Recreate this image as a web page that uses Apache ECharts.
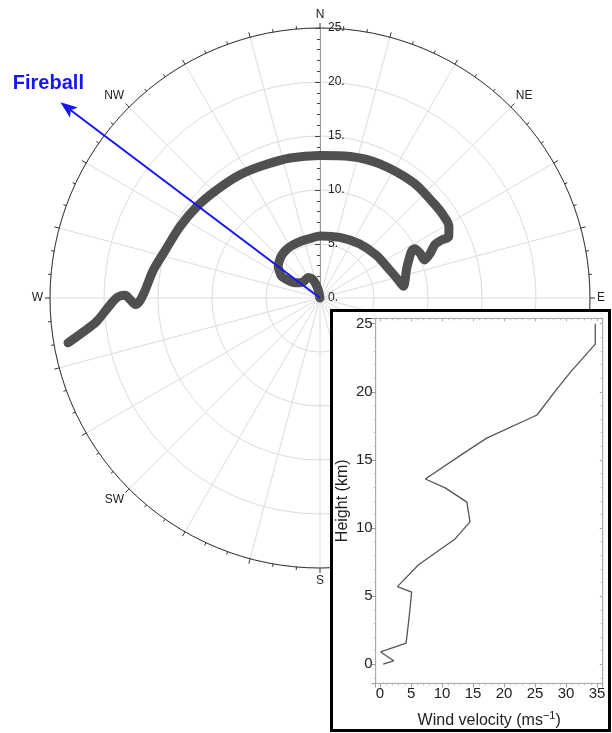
<!DOCTYPE html>
<html>
<head>
<meta charset="utf-8">
<script src="https://cdn.jsdelivr.net/npm/echarts@6/dist/echarts.min.js"></script>
<style>
html,body{margin:0;padding:0;background:#fff;}
#chart{width:612px;height:733px;}
</style>
</head>
<body>
<div id="chart"></div>
<script>
// ---- Hodograph (polar): radius = height (km), angle = wind direction (deg, clockwise from N)
const hodoHeight = [0, 0.7, 1.4, 1.9, 2.2, 2.15, 2.4, 2.9, 3.5, 4.1, 4.45, 4.85, 5.2, 5.4, 5.5, 5.55, 5.6, 5.75,
  5.9, 6.2, 6.55, 6.95, 7.5, 7.8, 8.5, 9.5, 9.9, 10.15, 10.3, 11.0, 11.75, 12.5, 13.2,
  13.65, 13.75, 13.7, 13.75, 13.6, 13.4, 13.2, 13.25, 13.35, 13.6, 13.85, 14.2, 14.55, 15.0, 15.65,
  16.2, 16.7, 17.1, 17.6, 18.05, 18.5, 19.0, 19.6, 20.8, 22.1, 23.7];
const hodoDirection = [345, 348, 343, 338, 330, 316, 306, 300, 299, 299.5, 303, 307, 315, 322, 330, 342, 352, 0,
  18, 36, 53, 68, 78, 82, 71, 63, 62.5, 66, 70, 68, 65, 64.5, 64.5,
  61, 56, 50, 39, 24, 12, 0, 348, 337, 327, 316, 306.5, 297, 287, 279.5,
  272.6, 269, 268, 269.6, 270.8, 270.6, 269.6, 267.6, 264, 261.9, 259.9];

// ---- Fireball direction arrow
const fireballDirection = 307;
const fireballLength = 30.1;

// ---- Compass labels every 45 degrees
const compassLabels = ['N', 'NE', 'E', 'SE', 'S', 'SW', 'W', 'NW'];

// ---- Inset: wind velocity profile
const windVelocity = [0.5, 2.2, 0.1, 4.2, 4.7, 5.1, 2.8, 6.2, 12.1, 14.5, 14.0, 10.5, 7.3, 13.5, 17.2, 25.3, 28.5, 30.7, 34.7, 34.7];
const windHeight   = [0, 0.25, 0.9, 1.55, 3.5, 5.3, 5.7, 7.3, 9.2, 10.45, 11.9, 12.95, 13.6, 15.5, 16.6, 18.3, 20.2, 21.45, 23.5, 25.0];

const FONT = '"Liberation Sans", Arial, Helvetica, sans-serif';
const BLUE = '#1616ee';

const hodoData = hodoHeight.map((h, i) => [h, hodoDirection[i]]);
const windData = windVelocity.map((v, i) => [v, windHeight[i]]);

const mult5 = v => Math.abs(v / 5 - Math.round(v / 5)) < 1e-6;

const chart = echarts.init(document.getElementById('chart'), null, {renderer: 'canvas'});
chart.setOption({
  animation: false,
  backgroundColor: '#fff',
  polar: {center: [320, 298], radius: 270},
  angleAxis: {
    type: 'value', min: 0, max: 360, interval: 15, startAngle: 90, clockwise: true,
    axisLine: {show: true, lineStyle: {color: '#333', width: 1}},
    axisTick: {show: true, length: 5, lineStyle: {color: '#333', width: 1}},
    minorTick: {show: true, splitNumber: 3, length: 3, lineStyle: {color: '#333', width: 1}},
    splitLine: {show: true, lineStyle: {color: '#dcdcdc', width: 1}},
    axisLabel: {
      margin: 7, color: '#222', fontSize: 12, fontFamily: FONT,
      formatter: v => (v < 360 && v % 45 === 0) ? compassLabels[v / 45] : ''
    }
  },
  radiusAxis: {
    type: 'value', min: 0, max: 25, interval: 5,
    axisLine: {show: true, lineStyle: {color: '#999', width: 1}},
    axisTick: {show: true, length: 5, lineStyle: {color: '#444'}},
    minorTick: {show: true, splitNumber: 5, length: 3, lineStyle: {color: '#444'}},
    splitLine: {show: true, lineStyle: {color: '#dcdcdc', width: 1}},
    axisLabel: {margin: -8, align: 'left', color: '#222', fontSize: 12, fontFamily: FONT,
      formatter: v => v + '.'}
  },
  grid: {left: 375.7, top: 318.3, width: 227, height: 365, show: true,
    backgroundColor: 'transparent', borderColor: '#bbb', borderWidth: 1, z: 11},
  xAxis: [{
    type: 'value', min: -0.7, max: 35.9, splitNumber: 7, z: 12,
    axisLine: {show: true, onZero: false, lineStyle: {color: '#aaa'}},
    axisTick: {show: true, length: 4, lineStyle: {color: '#999'}},
    minorTick: {show: true, splitNumber: 5, length: 2, lineStyle: {color: '#bbb'}},
    splitLine: {show: false},
    axisLabel: {margin: 3, color: '#222', fontSize: 15, fontFamily: FONT,
      formatter: v => mult5(v) ? String(Math.round(v)) : ''},
    name: '{a|Wind velocity (ms}{b|−1}{a|)}', nameLocation: 'middle', nameGap: 27,
    nameTextStyle: {rich: {
      a: {fontSize: 16, fontFamily: FONT, color: '#222', lineHeight: 20},
      b: {fontSize: 11, fontFamily: FONT, color: '#222', verticalAlign: 'top', lineHeight: 12}
    }}
  }, {
    type: 'value', position: 'top', min: -0.7, max: 35.9, splitNumber: 7, z: 12,
    axisLine: {show: true, onZero: false, lineStyle: {color: '#aaa'}},
    axisTick: {show: true, inside: true, length: 3, lineStyle: {color: '#aaa'}},
    minorTick: {show: true, splitNumber: 5, length: 2, lineStyle: {color: '#bbb'}},
    splitLine: {show: false}, axisLabel: {show: false}
  }],
  yAxis: [{
    type: 'value', min: -1.4, max: 25.4, splitNumber: 5, z: 12,
    axisLine: {show: true, onZero: false, lineStyle: {color: '#aaa'}},
    axisTick: {show: true, length: 4, lineStyle: {color: '#999'}},
    minorTick: {show: true, splitNumber: 5, length: 2, lineStyle: {color: '#bbb'}},
    splitLine: {show: false},
    axisLabel: {margin: 3, color: '#222', fontSize: 15, fontFamily: FONT,
      formatter: v => mult5(v) ? String(Math.round(v)) : ''},
    name: 'Height (km)', nameLocation: 'middle', nameGap: 25,
    nameTextStyle: {fontSize: 16, fontFamily: FONT, color: '#222'}
  }, {
    type: 'value', position: 'right', min: -1.4, max: 25.4, splitNumber: 5, z: 12,
    axisLine: {show: true, onZero: false, lineStyle: {color: '#aaa'}},
    axisTick: {show: true, inside: true, length: 3, lineStyle: {color: '#aaa'}},
    minorTick: {show: true, splitNumber: 5, length: 2, lineStyle: {color: '#bbb'}},
    splitLine: {show: false}, axisLabel: {show: false}
  }],
  graphic: [{
    type: 'rect', z: 10,
    shape: {x: 331.5, y: 310.5, width: 278, height: 420},
    style: {fill: '#fff', stroke: '#000', lineWidth: 3}
  }],
  series: [{
    type: 'line', coordinateSystem: 'polar', data: hodoData,
    symbol: 'none', smooth: 0.3, z: 3,
    lineStyle: {color: '#505050', width: 9, cap: 'round', join: 'round'}
  }, {
    type: 'custom', coordinateSystem: 'polar', z: 5,
    data: [[fireballLength, fireballDirection]],
    renderItem: function (params, api) {
      const len = api.value(0), dir = api.value(1);
      const p0 = api.coord([0, dir]);
      const p1 = api.coord([len, dir]);
      const dx = p1[0] - p0[0], dy = p1[1] - p0[1];
      const L = Math.hypot(dx, dy), ux = dx / L, uy = dy / L;
      const nx = -uy, ny = ux;
      const headLen = 17, headW = 6.5, notch = 4;
      const bx = p1[0] - ux * headLen, by = p1[1] - uy * headLen;
      const kx = p1[0] - ux * (headLen - notch), ky = p1[1] - uy * (headLen - notch);
      return {
        type: 'group',
        children: [
          {type: 'line', shape: {x1: p0[0], y1: p0[1], x2: kx, y2: ky},
            style: {stroke: BLUE, lineWidth: 2}},
          {type: 'polygon', shape: {points: [[p1[0], p1[1]], [bx + nx * headW, by + ny * headW], [kx, ky], [bx - nx * headW, by - ny * headW]]},
            style: {fill: BLUE}},
          {type: 'text', x: p1[0] - 12, y: p1[1] - 19,
            style: {text: 'Fireball', fill: BLUE, font: 'bold 20px ' + FONT, align: 'center', verticalAlign: 'middle'}}
        ]
      };
    }
  }, {
    type: 'line', xAxisIndex: 0, yAxisIndex: 0, data: windData, z: 13,
    symbol: 'none', lineStyle: {color: '#555', width: 1.3}
  }]
});
</script>
</body>
</html>
